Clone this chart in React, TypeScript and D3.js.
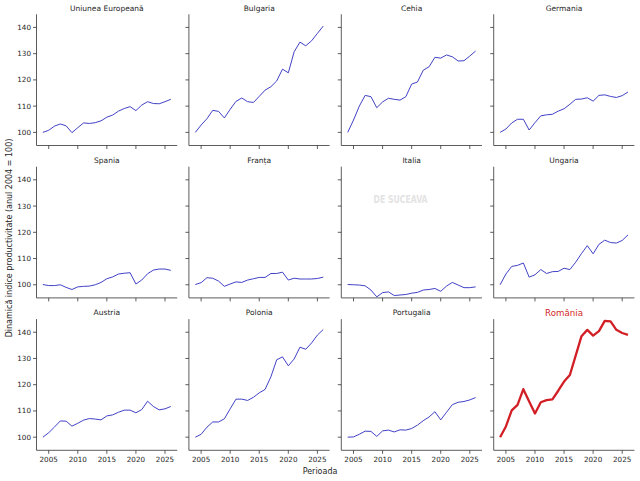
import React from "react";
import * as d3 from "d3";

const years = d3.range(2004, 2027);
const yTicks = [100, 110, 120, 130, 140];
const xTicks = [2005, 2010, 2015, 2020, 2025];

const countries = [
  "Uniunea Europeană", "Bulgaria", "Cehia", "Germania",
  "Spania", "Franța", "Italia", "Ungaria",
  "Austria", "Polonia", "Portugalia", "România",
];

const ue = [100, 100.8, 102.4, 103.2, 102.5, 99.9, 101.8, 103.6, 103.4, 103.7, 104.4, 105.8, 106.6, 108.1, 109.1, 109.8, 108.3, 110.4, 111.7, 111.0, 110.9, 111.7, 112.6];
const bulgaria = [100, 102.8, 105.2, 108.4, 108.0, 105.5, 108.8, 111.8, 113.1, 111.7, 111.4, 113.7, 116.1, 117.4, 119.6, 124.1, 122.7, 130.7, 134.4, 133.0, 134.9, 137.7, 140.5];
const cehia = [100, 104.7, 110.0, 114.1, 113.6, 109.4, 111.6, 113.0, 112.6, 112.3, 113.6, 118.4, 119.2, 123.7, 125.0, 128.6, 128.3, 129.5, 128.8, 127.2, 127.3, 129.1, 131.0];
const germania = [100, 101.3, 103.6, 105.0, 105.0, 100.9, 103.7, 106.3, 106.7, 106.9, 108.1, 109.0, 110.7, 112.6, 112.7, 113.2, 111.9, 114.1, 114.3, 113.7, 113.3, 114.0, 115.4];
const spania = [100.1, 99.7, 99.7, 100.0, 99.0, 98.2, 99.2, 99.4, 99.5, 100.0, 100.9, 102.3, 103.0, 104.1, 104.4, 104.6, 100.3, 101.8, 104.2, 105.6, 106.0, 106.0, 105.5];
const franta = [100.1, 100.8, 102.7, 102.5, 101.4, 99.4, 100.3, 101.1, 100.9, 101.8, 102.3, 102.8, 102.8, 104.3, 104.3, 104.8, 101.8, 102.5, 102.2, 102.2, 102.2, 102.4, 102.9];
const italia = [100.1, 100.0, 99.9, 99.6, 98.0, 95.4, 97.0, 97.3, 95.9, 96.1, 96.3, 96.8, 97.1, 98.0, 98.2, 98.6, 97.5, 99.5, 100.9, 99.9, 98.9, 98.9, 99.2];
const ungaria = [100, 104.1, 107.0, 107.4, 108.3, 102.9, 103.8, 105.8, 104.3, 105.0, 105.1, 106.3, 105.8, 108.6, 111.9, 114.9, 111.8, 115.4, 117.0, 116.1, 115.9, 116.9, 119.0];
const austria = [100, 101.7, 103.9, 106.2, 106.1, 104.2, 105.3, 106.5, 107.1, 106.9, 106.6, 108.1, 108.5, 109.5, 110.3, 110.3, 109.3, 110.5, 113.7, 111.7, 110.4, 110.8, 111.7];
const polonia = [100, 101.1, 103.8, 105.8, 105.8, 107.0, 110.8, 114.5, 114.5, 114.0, 115.2, 116.9, 118.2, 123.0, 129.5, 130.6, 127.2, 129.8, 134.3, 133.5, 135.9, 138.9, 141.0];
const portugalia = [100, 100.1, 101.1, 102.3, 102.2, 100.3, 102.4, 102.7, 102.0, 102.8, 102.7, 103.3, 104.6, 106.3, 107.7, 109.7, 106.6, 109.5, 112.4, 113.3, 113.6, 114.2, 115.1];
const romania = [100, 104.1, 110.2, 112.3, 118.3, 113.6, 109.0, 113.3, 114.1, 114.4, 117.7, 121.2, 123.7, 131.1, 138.5, 140.9, 138.7, 140.4, 144.3, 144.1, 140.9, 139.7, 139.0];

const series = [ue, bulgaria, cehia, germania, spania, franta, italia, ungaria, austria, polonia, portugalia, romania];

const W = 640;
const H = 481;
const left0 = 36.5;
const top0 = 14.3;
const step = 152.4;
const pw = 140.7;
const ph = 131.2;
const FONT = "DejaVu Sans, sans-serif";
const BLUE = "#3737c2";
const RED = "#d21f26";

export default function App() {
  const x = d3.scaleLinear().domain([2002.9, 2027.1]).range([0, pw]);
  const y = d3.scaleLinear().domain([95, 145]).range([ph, 0]);
  const line = d3
    .line<number>()
    .x((_, i) => x(years[i]))
    .y((d) => y(d));

  return (
    <div style={{ position: "fixed", left: 0, top: 0 }}>
      <svg width={W} height={H} style={{ display: "block", background: "#fff" }} fontFamily={FONT}>
        <defs>
          <clipPath id="plotclip">
            <rect x={0} y={-2} width={pw} height={ph + 4} />
          </clipPath>
        </defs>
        {countries.map((name, idx) => {
          const r = Math.floor(idx / 4);
          const c = idx % 4;
          const tx = left0 + c * step;
          const ty = top0 + r * step;
          const isRo = idx === 11;
          return (
            <g key={name} transform={`translate(${tx},${ty})`}>
              <path
                d={line(series[idx]) || ""}
                fill="none"
                stroke={isRo ? RED : BLUE}
                strokeWidth={isRo ? 2.3 : 0.95}
                strokeLinejoin="round"
                clipPath="url(#plotclip)"
              />
              <line x1={0} x2={0} y1={0} y2={ph} stroke="#333" strokeWidth={0.8} />
              <line x1={0} x2={pw} y1={ph} y2={ph} stroke="#333" strokeWidth={0.8} />
              {yTicks.map((t) => (
                <g key={t}>
                  <line x1={-3.5} x2={0} y1={y(t)} y2={y(t)} stroke="#333" strokeWidth={0.8} />
                  {c === 0 && (
                    <text x={-5.5} y={y(t)} dy="0.35em" textAnchor="end" fontSize={7.2} fill="#262626">
                      {t}
                    </text>
                  )}
                </g>
              ))}
              {xTicks.map((t) => (
                <g key={t}>
                  <line x1={x(t)} x2={x(t)} y1={ph} y2={ph + 3.5} stroke="#333" strokeWidth={0.8} />
                  {r === 2 && (
                    <text x={x(t)} y={ph + 11.8} textAnchor="middle" fontSize={7.2} fill="#262626">
                      {t}
                    </text>
                  )}
                </g>
              ))}
              <text
                x={pw / 2}
                y={isRo ? -3.6 : -3.8}
                textAnchor="middle"
                fontSize={isRo ? 8.7 : 7.5}
                fill={isRo ? RED : "#262626"}
              >
                {name}
              </text>
              {idx === 6 && (
                <text
                  x={x(2013.1)}
                  y={y(132.5)}
                  dy="0.35em"
                  textAnchor="middle"
                  fontSize={10}
                  fontWeight="bold"
                  fill="#e3e3e3"
                  textLength={54}
                  lengthAdjust="spacingAndGlyphs"
                >
                  DE SUCEAVA
                </text>
              )}
            </g>
          );
        })}
        <text x={320} y={474} textAnchor="middle" fontSize={8} fill="#262626">
          Perioada
        </text>
        <text
          transform={`translate(12.3,238) rotate(-90)`}
          textAnchor="middle"
          fontSize={8}
          fill="#262626"
        >
          Dinamică indice productivitate (anul 2004 = 100)
        </text>
      </svg>
    </div>
  );
}
